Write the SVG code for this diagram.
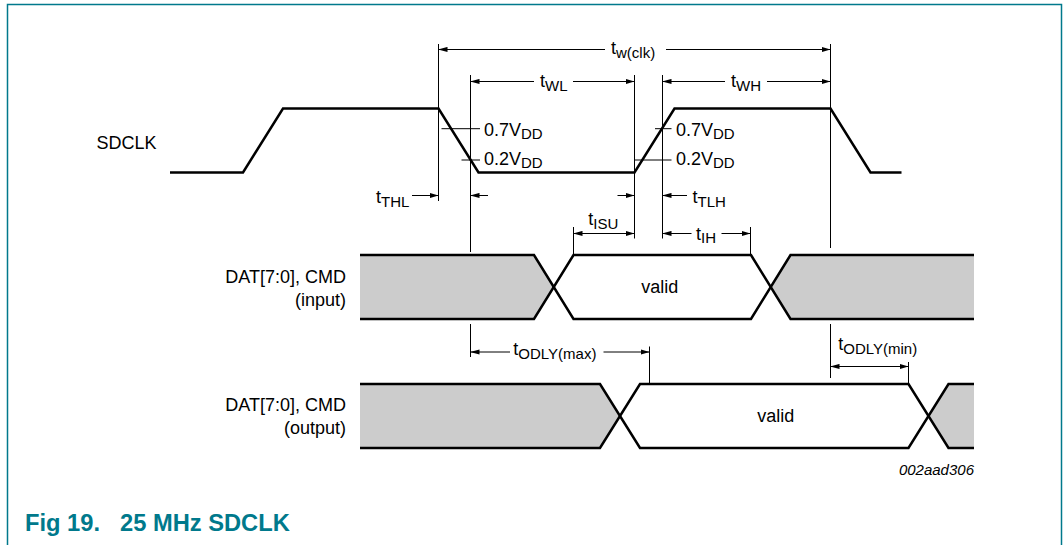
<svg xmlns="http://www.w3.org/2000/svg" width="1063" height="545" viewBox="0 0 1063 545">
<style>
text{font-family:"Liberation Sans",Arial,sans-serif;fill:#000}
.lbl{font-size:18px}
.sub{font-size:15px}
.sig{fill:none;stroke:#000;stroke-width:2.5;stroke-linejoin:miter}
.gray{fill:#cccccc;stroke:none}
.dim{fill:none;stroke:#000;stroke-width:1}
.ah{marker-end:url(#ah)}
.as{marker-start:url(#ah)}
.cap{font-size:23.7px;font-weight:bold;fill:#00798c}
</style>
<defs>
<marker id="ah" markerUnits="userSpaceOnUse" markerWidth="9" markerHeight="6" refX="9" refY="3" orient="auto-start-reverse">
<path d="M0,0.4 L9,3 L0,5.6 z" fill="#000"/>
</marker>
</defs>
<rect width="1063" height="545" fill="#fff"/>
<g id="frame"><path d="M7.5,545 V4.5 H1061.5 V545" fill="none" stroke="#00798c" stroke-width="1.5"/></g>

<g id="sdclk">
<text class="lbl" x="96.5" y="149.3">SDCLK</text>
<path class="sig" d="M170,172.5 H243 L283,108.5 H438.5 L478.5,172.5 H634.5 L674.5,108.5 H830.5 L870.5,172.5 H901.5"/>
</g>

<g id="dat-input">
<text class="lbl" x="346" y="282.7" text-anchor="end">DAT[7:0], CMD</text>
<text class="lbl" x="346" y="305.7" text-anchor="end">(input)</text>
<polygon class="gray" points="360,255 534,255 553.75,287 534,319 360,319"/>
<polygon class="gray" points="790.5,255 974,255 974,319 790.5,319 770.75,287"/>
<path class="sig" d="M360,255 H534 L573.5,319 H751 L790.5,255 H974"/>
<path class="sig" d="M360,319 H534 L573.5,255 H751 L790.5,319 H974"/>
<text class="lbl" x="659.7" y="293.3" text-anchor="middle">valid</text>
</g>

<g id="dat-output">
<text class="lbl" x="346" y="411" text-anchor="end">DAT[7:0], CMD</text>
<text class="lbl" x="346" y="434" text-anchor="end">(output)</text>
<polygon class="gray" points="360,384 600,384 620,416 600,448 360,448"/>
<polygon class="gray" points="949,384 974,384 974,448 949,448 929,416"/>
<path class="sig" d="M360,384 H600 L640,448 H908.5 L948.5,384 H974"/>
<path class="sig" d="M360,448 H600 L640,384 H908.5 L948.5,448 H974"/>
<text class="lbl" x="775.7" y="422.3" text-anchor="middle">valid</text>
</g>

<g id="connectors">
<path class="dim" d="M438.5,44 V201 M470.5,75 V252 M634.5,75 V238.5 M662.5,75 V238.5 M830.5,44 V248"/>
<path class="dim" d="M441.5,128.7 H480 M461.5,160 H480 M655,128.7 H671.5 M634.5,160 H671.5"/>
<path class="dim as" d="M438.5,49.5 H605"/>
<path class="dim ah" d="M666,49.5 H830.5"/>
<path class="dim as" d="M470.5,81.5 H534"/>
<path class="dim ah" d="M573,81.5 H634.5"/>
<path class="dim as" d="M662.5,81.5 H725"/>
<path class="dim ah" d="M767,81.5 H830.5"/>
<path class="dim ah" d="M412,195.5 H438.5"/>
<path class="dim ah" d="M488,195.5 H470.5"/>
<path class="dim ah" d="M617.5,195.5 H634.5"/>
<path class="dim ah" d="M687,195.5 H662.5"/>
<path class="dim" d="M573.5,227 V255 M750.5,227 V255"/>
<path class="dim as ah" d="M573.5,233.5 H634.5"/>
<path class="dim as" d="M662.5,233.5 H691.5"/>
<path class="dim ah" d="M721.5,233.5 H750.5"/>
<path class="dim" d="M470.5,324 V357 M649.5,346.5 V384"/>
<path class="dim as" d="M470.5,352 H510"/>
<path class="dim ah" d="M603.5,352 H649.5"/>
<path class="dim" d="M830.5,324 V378 M908.5,362 V384"/>
<path class="dim as ah" d="M830.5,366.5 H908.5"/>
</g>

<g id="timing-labels">
<text class="lbl" x="611" y="54">t<tspan class="sub" dy="3.5">w(clk)</tspan></text>
<text class="lbl" x="540" y="87">t<tspan class="sub" dy="3.5">WL</tspan></text>
<text class="lbl" x="731" y="87">t<tspan class="sub" dy="3.5">WH</tspan></text>
<text class="lbl" x="484" y="136">0.7V<tspan class="sub" dy="3.3">DD</tspan></text>
<text class="lbl" x="484" y="165">0.2V<tspan class="sub" dy="3.3">DD</tspan></text>
<text class="lbl" x="676" y="136">0.7V<tspan class="sub" dy="3.3">DD</tspan></text>
<text class="lbl" x="676" y="165">0.2V<tspan class="sub" dy="3.3">DD</tspan></text>
<text class="lbl" x="376" y="203">t<tspan class="sub" dy="3.5">THL</tspan></text>
<text class="lbl" x="692.5" y="203">t<tspan class="sub" dy="3.5">TLH</tspan></text>
<text class="lbl" x="588.3" y="225">t<tspan class="sub" dy="3.5">ISU</tspan></text>
<text class="lbl" x="696" y="239.5">t<tspan class="sub" dy="3">IH</tspan></text>
<text class="lbl" x="513.3" y="355">t<tspan class="sub" dy="4">ODLY(max)</tspan></text>
<text class="lbl" x="838.3" y="349.5">t<tspan class="sub" dy="4">ODLY(min)</tspan></text>
<text x="974" y="475" text-anchor="end" font-size="15" font-style="italic">002aad306</text>
</g>

<g id="caption">
<text class="cap" x="25" y="530.5">Fig 19.</text>
<text class="cap" x="120" y="530.5">25 MHz SDCLK</text>
</g>
</svg>
